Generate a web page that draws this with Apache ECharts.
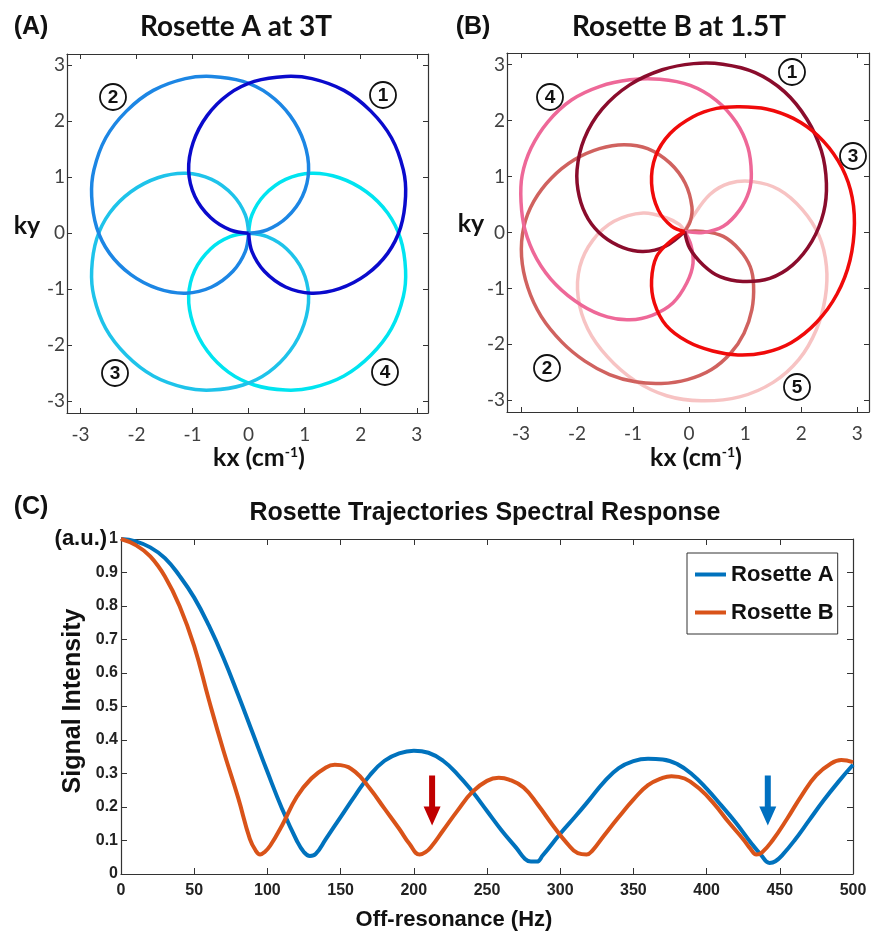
<!DOCTYPE html>
<html>
<head>
<meta charset="utf-8">
<title>Rosette trajectories</title>
<script src="https://cdn.jsdelivr.net/npm/echarts@6/dist/echarts.min.js"></script>
<style>
  html, body { margin: 0; padding: 0; background: #fff; }
  #chart { width: 881px; height: 934px; }
</style>
</head>
<body>
<div id="chart"></div>
<script>
// k-space ticks for panels A and B
const kTicks = [-3, -2, -1, 0, 1, 2, 3];

// Rosette A petals, [kx, ky]
const rosA1 = [[0,0],[0.06,-0.33],[0.28,-0.68],[0.66,-0.96],[1.12,-1.07],[1.62,-0.99],[2.10,-0.74],[2.48,-0.36],[2.71,0.10],[2.80,0.66],[2.76,1.13],[2.55,1.70],[2.18,2.18],[1.70,2.55],[1.13,2.76],[0.66,2.80],[0.10,2.71],[-0.36,2.48],[-0.74,2.10],[-0.99,1.62],[-1.07,1.12],[-0.96,0.66],[-0.68,0.28],[-0.33,0.06],[0,0]];
const rosA2 = [[0,0],[0.33,0.06],[0.68,0.28],[0.96,0.66],[1.07,1.12],[0.99,1.62],[0.74,2.10],[0.36,2.48],[-0.10,2.71],[-0.66,2.80],[-1.13,2.76],[-1.70,2.55],[-2.18,2.18],[-2.55,1.70],[-2.76,1.13],[-2.80,0.66],[-2.71,0.10],[-2.48,-0.36],[-2.10,-0.74],[-1.62,-0.99],[-1.12,-1.07],[-0.66,-0.96],[-0.28,-0.68],[-0.06,-0.33],[0,0]];
const rosA3 = [[0,0],[-0.06,0.33],[-0.28,0.68],[-0.66,0.96],[-1.12,1.07],[-1.62,0.99],[-2.10,0.74],[-2.48,0.36],[-2.71,-0.10],[-2.80,-0.66],[-2.76,-1.13],[-2.55,-1.70],[-2.18,-2.18],[-1.70,-2.55],[-1.13,-2.76],[-0.66,-2.80],[-0.10,-2.71],[0.36,-2.48],[0.74,-2.10],[0.99,-1.62],[1.07,-1.12],[0.96,-0.66],[0.68,-0.28],[0.33,-0.06],[0,0]];
const rosA4 = [[0,0],[-0.33,-0.06],[-0.68,-0.28],[-0.96,-0.66],[-1.07,-1.12],[-0.99,-1.62],[-0.74,-2.10],[-0.36,-2.48],[0.10,-2.71],[0.66,-2.80],[1.13,-2.76],[1.70,-2.55],[2.18,-2.18],[2.55,-1.70],[2.76,-1.13],[2.80,-0.66],[2.71,-0.10],[2.48,0.36],[2.10,0.74],[1.62,0.99],[1.12,1.07],[0.66,0.96],[0.28,0.68],[0.06,0.33],[0,0]];

// Rosette B petals, [kx, ky]
const rosB1 = [[-0.08,0.02],[0.01,-0.28],[0.25,-0.58],[0.55,-0.79],[0.96,-0.875],[1.44,-0.82],[1.85,-0.58],[2.19,-0.16],[2.40,0.36],[2.45,0.88],[2.36,1.46],[2.10,2.03],[1.70,2.52],[1.18,2.86],[0.60,3.01],[0.08,3.02],[-0.48,2.91],[-1.06,2.64],[-1.55,2.21],[-1.87,1.68],[-2.00,1.12],[-1.96,0.64],[-1.80,0.24],[-1.53,-0.07],[-1.18,-0.27],[-0.82,-0.34],[-0.43,-0.25],[-0.08,0.02]];
const rosB2 = [[-0.08,0.02],[0.25,0.02],[0.61,-0.07],[0.90,-0.31],[1.09,-0.61],[1.15,-0.94],[1.12,-1.38],[0.98,-1.80],[0.74,-2.16],[0.40,-2.45],[-0.03,-2.63],[-0.50,-2.70],[-0.96,-2.67],[-1.42,-2.54],[-1.86,-2.30],[-2.27,-1.96],[-2.64,-1.50],[-2.88,-0.98],[-2.99,-0.43],[-2.95,0.10],[-2.77,0.56],[-2.46,0.97],[-2.05,1.30],[-1.60,1.50],[-1.16,1.57],[-0.74,1.50],[-0.34,1.24],[-0.07,0.88],[0.05,0.46],[0.02,0.20],[-0.08,0.02]];
const rosB3 = [[-0.08,0.02],[-0.31,0.11],[-0.55,0.40],[-0.67,0.88],[-0.60,1.36],[-0.34,1.77],[0.07,2.07],[0.49,2.22],[0.90,2.25],[1.38,2.21],[1.86,2.04],[2.30,1.73],[2.66,1.28],[2.88,0.76],[2.95,0.17],[2.87,-0.50],[2.64,-1.10],[2.28,-1.60],[1.82,-1.97],[1.34,-2.15],[0.87,-2.19],[0.42,-2.12],[-0.03,-1.95],[-0.41,-1.66],[-0.62,-1.26],[-0.67,-0.85],[-0.58,-0.43],[-0.34,-0.16],[-0.08,0.02]];
const rosB4 = [[-0.08,0.02],[0.25,0.00],[0.61,0.11],[0.90,0.40],[1.07,0.74],[1.11,1.06],[1.05,1.52],[0.84,1.97],[0.49,2.36],[0.02,2.63],[-0.52,2.74],[-1.06,2.73],[-1.60,2.61],[-2.10,2.37],[-2.52,1.98],[-2.82,1.51],[-2.98,1.02],[-3.00,0.55],[-2.93,0.05],[-2.72,-0.47],[-2.38,-0.93],[-1.92,-1.30],[-1.46,-1.51],[-1.06,-1.56],[-0.66,-1.48],[-0.29,-1.26],[-0.04,-0.90],[0.07,-0.55],[0.03,-0.22],[-0.08,0.02]];
const rosB5 = [[-0.08,0.02],[0.07,0.29],[0.37,0.68],[0.72,0.88],[1.14,0.91],[1.60,0.77],[2.02,0.41],[2.32,-0.06],[2.45,-0.60],[2.43,-1.16],[2.27,-1.74],[1.96,-2.27],[1.50,-2.68],[0.90,-2.94],[0.22,-3.01],[-0.40,-2.92],[-0.98,-2.64],[-1.46,-2.22],[-1.81,-1.72],[-1.98,-1.16],[-1.95,-0.61],[-1.72,-0.14],[-1.34,0.20],[-0.82,0.35],[-0.40,0.26],[-0.17,0.14],[-0.08,0.02]];

// Spectral response, panel (C)
const hzA = [0,10,20,30,40,50,60,70,80,90,100,110,120,125,129,133,140,150,160,170,180,190,200,210,220,230,240,250,260,270,276,280,284,288,300,310,320,330,340,350,360,370,380,390,400,410,420,430,437,443,447,452,460,470,480,490,500];
const sigA = [1.0,0.993,0.975,0.943,0.89,0.825,0.742,0.645,0.535,0.42,0.305,0.195,0.10,0.065,0.054,0.06,0.105,0.17,0.235,0.295,0.338,0.36,0.368,0.362,0.338,0.297,0.246,0.188,0.13,0.078,0.045,0.037,0.037,0.055,0.12,0.17,0.222,0.275,0.316,0.337,0.344,0.342,0.328,0.298,0.255,0.205,0.153,0.095,0.058,0.033,0.038,0.058,0.10,0.16,0.22,0.275,0.326];
const hzB = [0,10,20,30,40,50,60,70,80,88,92,95,98,102,110,120,130,140,146,150,160,170,180,190,197,204,208,212,220,230,240,250,258,265,275,285,295,305,312,318,322,330,340,350,360,370,376,385,395,405,415,425,430,434,438,445,455,465,475,485,492,500];
const sigB = [1.0,0.982,0.948,0.888,0.80,0.68,0.52,0.368,0.228,0.105,0.07,0.058,0.065,0.085,0.145,0.23,0.285,0.318,0.326,0.325,0.305,0.255,0.195,0.135,0.09,0.058,0.065,0.082,0.13,0.19,0.245,0.278,0.287,0.282,0.258,0.205,0.145,0.09,0.062,0.058,0.07,0.115,0.17,0.222,0.265,0.287,0.292,0.285,0.255,0.21,0.155,0.104,0.075,0.058,0.065,0.10,0.165,0.235,0.295,0.33,0.34,0.334];

// arrows marking the stopband minima: [Hz, top, tip]
const arrowB = [212.5, 0.294, 0.145];
const arrowA = [441.8, 0.294, 0.145];

const frame = '#333';
const calFont = 'Lato, "Open Sans", sans-serif';
const armFont = '"Liberation Sans", Arial, sans-serif';

function kAxis(gridIndex, pos, min, max, labels) {
    return {
        type: 'value', gridIndex: gridIndex, position: pos, min: min, max: max,
        axisLine: {show: true, onZero: false, lineStyle: {color: frame, width: 1.2}},
        axisTick: {show: true, inside: true, length: 5, customValues: kTicks, lineStyle: {color: frame}},
        axisLabel: {
            show: labels, customValues: kTicks, color: '#404040',
            fontFamily: calFont, fontSize: 19, margin: (pos === 'bottom') ? 12 : 2
        },
        splitLine: {show: false}
    };
}

function cAxis(pos, min, max, interval, labels, formatter) {
    return {
        type: 'value', gridIndex: 2, position: pos, min: min, max: max, interval: interval,
        axisLine: {show: true, onZero: false, lineStyle: {color: frame, width: 1.2}},
        axisTick: {show: true, inside: true, length: 6, lineStyle: {color: frame}},
        axisLabel: {
            show: labels, color: '#222', fontFamily: armFont, fontWeight: 'bold', fontSize: 16,
            margin: (pos === 'bottom') ? 9 : 3, formatter: formatter,
            rich: {u: {fontFamily: armFont, fontWeight: 'bold', fontSize: 22, color: '#111', padding: [0, 2, 0, 0]}}
        },
        splitLine: {show: false}
    };
}

// each petal is one smooth path through its points, placed with the axis scales
function petal(pts, color, idx) {
    return {
        type: 'custom', xAxisIndex: idx, yAxisIndex: idx, data: pts, silent: true,
        renderItem: function (params, api) {
            if (params.dataIndex !== 0) return null;
            return {
                type: 'polyline',
                shape: {points: pts.map(p => api.coord(p)), smooth: 0.35},
                style: {stroke: color, lineWidth: 3.5, fill: null}
            };
        }
    };
}

function circled(num, x, y) {
    return {
        type: 'group', x: x, y: y, silent: true,
        children: [
            {type: 'circle', shape: {cx: 0, cy: 0, r: 13}, style: {fill: 'none', stroke: '#111', lineWidth: 1.8}},
            {type: 'text', x: 0, y: 1, style: {
                text: String(num), fill: '#111', font: 'bold 19px ' + armFont,
                align: 'center', verticalAlign: 'middle'
            }}
        ]
    };
}

function label(text, x, y, font, extra) {
    return Object.assign({
        type: 'text', x: x, y: y, silent: true,
        style: {text: text, font: font, fill: '#111', align: 'center', verticalAlign: 'middle'}
    }, extra || {});
}

function kxLabel(x, y) {
    return {
        type: 'text', x: x, y: y, silent: true,
        style: {
            text: '{m|kx (cm}{s|-1}{m|)}', align: 'center', verticalAlign: 'middle',
            rich: {
                m: {font: 'bold 25px ' + calFont, fill: '#111'},
                s: {font: 'bold 14px ' + calFont, fill: '#111', padding: [0, 0, 12, 0]}
            }
        }
    };
}

const texts = [
    label('(A)', 31, 27, 'bold 25px ' + armFont),
    label('(B)', 473, 27, 'bold 25px ' + armFont),
    label('(C)', 31, 507, 'bold 25px ' + armFont),
    label('Rosette A at 3T', 236, 27, 'bold 28px ' + calFont),
    label('Rosette B at 1.5T', 679, 27, 'bold 28px ' + calFont),
    label('ky', 27, 226, 'bold 25px ' + calFont),
    label('ky', 471, 224, 'bold 25px ' + calFont),
    kxLabel(259, 458),
    kxLabel(696, 458),
    label('Rosette Trajectories Spectral Response', 485, 513, 'bold 25px ' + armFont),
    label('Off-resonance (Hz)', 454, 920, 'bold 22px ' + armFont),
    label('Signal Intensity', 73, 701, 'bold 25px ' + armFont, {rotation: Math.PI / 2}),
    circled(1, 383, 95), circled(2, 113, 97), circled(3, 115, 373), circled(4, 385, 372),
    circled(1, 792, 72), circled(2, 547, 368), circled(3, 853, 156), circled(4, 550, 97), circled(5, 797, 387)
];

const chart = echarts.init(document.getElementById('chart'));

chart.setOption({
    animation: false,
    backgroundColor: '#fff',
    grid: [
        {left: 67, top: 54, width: 361, height: 359},
        {left: 507, top: 53, width: 362, height: 359},
        {left: 121, top: 539, width: 732, height: 335}
    ],
    xAxis: [
        kAxis(0, 'bottom', -3.24, 3.2, true),
        kAxis(0, 'top', -3.24, 3.2, false),
        kAxis(1, 'bottom', -3.25, 3.21, true),
        kAxis(1, 'top', -3.25, 3.21, false),
        cAxis('bottom', 0, 500, 50, true),
        cAxis('top', 0, 500, 50, false)
    ],
    yAxis: [
        kAxis(0, 'left', -3.21, 3.2, true),
        kAxis(0, 'right', -3.21, 3.2, false),
        kAxis(1, 'left', -3.21, 3.21, true),
        kAxis(1, 'right', -3.21, 3.21, false),
        cAxis('left', 0, 1, 0.1, true, function (v) {
            if (v === 1) return '{u|(a.u.)}1';
            return String(+v.toFixed(1));
        }),
        cAxis('right', 0, 1, 0.1, false)
    ],
    legend: {
        data: ['Rosette A', 'Rosette B'], orient: 'vertical', left: 687, top: 553,
        icon: 'rect', itemWidth: 31, itemHeight: 4, itemGap: 13,
        borderColor: '#333', borderWidth: 1, padding: [9, 4, 9, 8], backgroundColor: '#fff',
        textStyle: {fontFamily: armFont, fontWeight: 'bold', fontSize: 22, color: '#111', lineHeight: 25}
    },
    series: [
        petal(rosA4, '#00E4F0', 0),
        petal(rosA3, '#1EC3EA', 0),
        petal(rosA2, '#1C86E4', 0),
        petal(rosA1, '#0A0ACC', 0),
        petal(rosB5, '#F7C3C3', 2),
        petal(rosB2, '#D0625F', 2),
        petal(rosB4, '#EE6898', 2),
        petal(rosB1, '#8A0C2C', 2),
        petal(rosB3, '#F00A0A', 2),
        {
            name: 'Rosette A', type: 'line', xAxisIndex: 4, yAxisIndex: 4,
            data: hzA.map((h, i) => [h, sigA[i]]), symbol: 'none', smooth: 0.45,
            lineStyle: {color: '#0072BD', width: 4}, itemStyle: {color: '#0072BD'}
        },
        {
            name: 'Rosette B', type: 'line', xAxisIndex: 4, yAxisIndex: 4,
            data: hzB.map((h, i) => [h, sigB[i]]), symbol: 'none', smooth: 0.45,
            lineStyle: {color: '#D95319', width: 4}, itemStyle: {color: '#D95319'}
        }
    ],
    graphic: texts
});

// arrows sit in data space, so convert once the axes exist
function arrow(a, color) {
    const top = chart.convertToPixel({xAxisIndex: 4, yAxisIndex: 4}, [a[0], a[1]]);
    const tip = chart.convertToPixel({xAxisIndex: 4, yAxisIndex: 4}, [a[0], a[2]]);
    const x = top[0], head = tip[1] - 19;
    return {
        type: 'polygon', silent: true, z: 50,
        shape: {points: [[x - 3, top[1]], [x + 3, top[1]], [x + 3, head], [x + 8.5, head], [x, tip[1]], [x - 8.5, head], [x - 3, head]]},
        style: {fill: color}
    };
}

chart.setOption({graphic: texts.concat([arrow(arrowB, '#C00000'), arrow(arrowA, '#0070C0')])});
</script>
</body>
</html>
